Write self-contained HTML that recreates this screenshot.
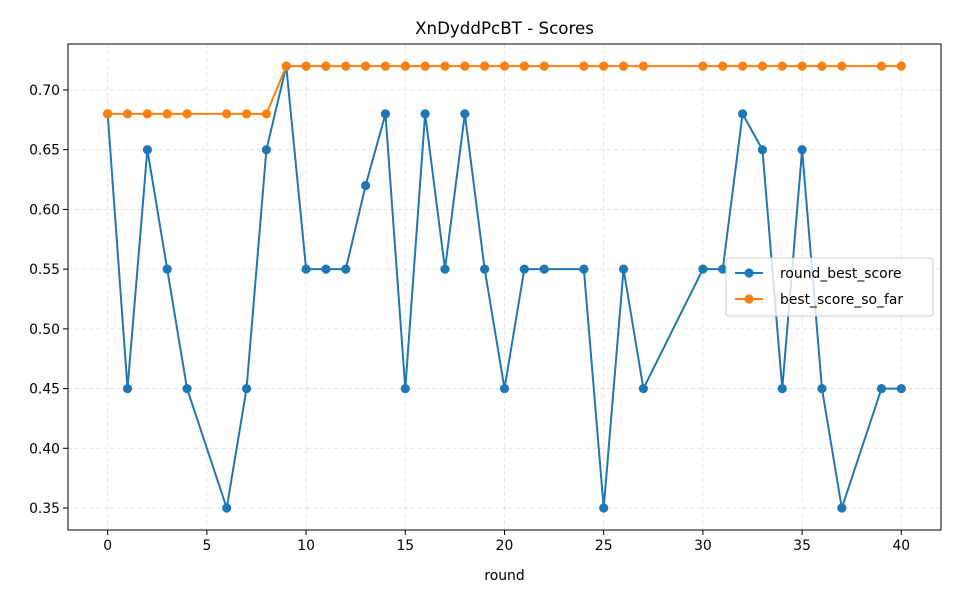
<!DOCTYPE html>
<html><head><meta charset="utf-8"><style>
html,body{margin:0;padding:0;background:#fff;}
svg{display:block;font-family:"DejaVu Sans","Liberation Sans",sans-serif;}
</style></head><body>
<svg id="chart" width="960" height="600" xmlns="http://www.w3.org/2000/svg"></svg>
<script>
const rounds = [0,1,2,3,4,6,7,8,9,10,11,12,13,14,15,16,17,18,19,20,21,22,24,25,26,27,30,31,32,33,34,35,36,37,39,40];
const roundBest = [0.68,0.45,0.65,0.55,0.45,0.35,0.45,0.65,0.72,0.55,0.55,0.55,0.62,0.68,0.45,0.68,0.55,0.68,0.55,0.45,0.55,0.55,0.55,0.35,0.55,0.45,0.55,0.55,0.68,0.65,0.45,0.65,0.45,0.35,0.45,0.45];
const bestSoFar = [0.68,0.68,0.68,0.68,0.68,0.68,0.68,0.68,0.72,0.72,0.72,0.72,0.72,0.72,0.72,0.72,0.72,0.72,0.72,0.72,0.72,0.72,0.72,0.72,0.72,0.72,0.72,0.72,0.72,0.72,0.72,0.72,0.72,0.72,0.72,0.72];
const xTicks = [0,5,10,15,20,25,30,35,40];
const yTicks = [0.35,0.40,0.45,0.50,0.55,0.60,0.65,0.70];

const L=68,R=941,T=44,B=530;
const xMin=-2,xMax=42,yMin=0.3316,yMax=0.7385;
const X=v=>L+(v-xMin)/(xMax-xMin)*(R-L);
const Y=v=>B-(v-yMin)/(yMax-yMin)*(B-T);
const svg=document.getElementById('chart');
const NS='http://www.w3.org/2000/svg';
function mk(tag,attrs,parent){const e=document.createElementNS(NS,tag);for(const k in attrs)e.setAttribute(k,attrs[k]);(parent||svg).appendChild(e);return e;}

const grid=mk('g',{});


xTicks.forEach(t=>{mk('line',{x1:X(t),x2:X(t),y1:T,y2:B,stroke:'#b0b0b0','stroke-opacity':0.4,'stroke-dasharray':'4,3','stroke-width':0.8},grid);});
yTicks.forEach(t=>{mk('line',{x1:L,x2:R,y1:Y(t),y2:Y(t),stroke:'#b0b0b0','stroke-opacity':0.4,'stroke-dasharray':'4,3','stroke-width':0.8},grid);});

const xa=mk('g',{});


xTicks.forEach(t=>{mk('line',{x1:X(t),x2:X(t),y1:B,y2:B+5,stroke:'#000'},xa);const tx=mk('text',{x:X(t),y:B+20,'text-anchor':'middle','font-size':13.9},xa);tx.textContent=t;});
const xt=mk('text',{x:(L+R)/2,y:580,'text-anchor':'middle','font-size':13.9},xa);xt.textContent='round';



const ya=mk('g',{});


yTicks.forEach(t=>{mk('line',{x1:L-5,x2:L,y1:Y(t),y2:Y(t),stroke:'#000'},ya);const tx=mk('text',{x:L-8,y:Y(t)+5,'text-anchor':'end','font-size':13.9},ya);tx.textContent=t.toFixed(2);});

function series(vals,color,name){
  const g=mk('g',{});
  
  
  mk('polyline',{points:rounds.map((r,i)=>X(r)+','+Y(vals[i])).join(' '),fill:'none',stroke:color,'stroke-width':2},g);
  rounds.forEach((r,i)=>{const c=mk('circle',{cx:X(r),cy:Y(vals[i]),r:4.6,fill:color},g);
    
    });
}
series(roundBest,'#1f77b4','round-best-score-series');
series(bestSoFar,'#ff7f0e','best-score-so-far-series');

mk('rect',{x:L,y:T,width:R-L,height:B-T,fill:'none',stroke:'#000','stroke-width':1});
const title=mk('text',{x:(L+R)/2,y:34,'text-anchor':'middle','font-size':16.7});title.textContent='XnDyddPcBT - Scores';



const lg=mk('g',{});


mk('rect',{x:726,y:258,width:207,height:58,rx:3,fill:'#fff','fill-opacity':0.8,stroke:'#ccc'},lg);
[['round_best_score','#1f77b4',273],['best_score_so_far','#ff7f0e',299]].forEach(([n,c,y])=>{
  const e=mk('g',{},lg);
  
  
  mk('line',{x1:735,x2:763,y1:y,y2:y,stroke:c,'stroke-width':2},e);
  mk('circle',{cx:749,cy:y,r:4.6,fill:c},e);
  const t=mk('text',{x:780,y:y+5,'font-size':13.9},e);t.textContent=n;
});
</script>
</body></html>
